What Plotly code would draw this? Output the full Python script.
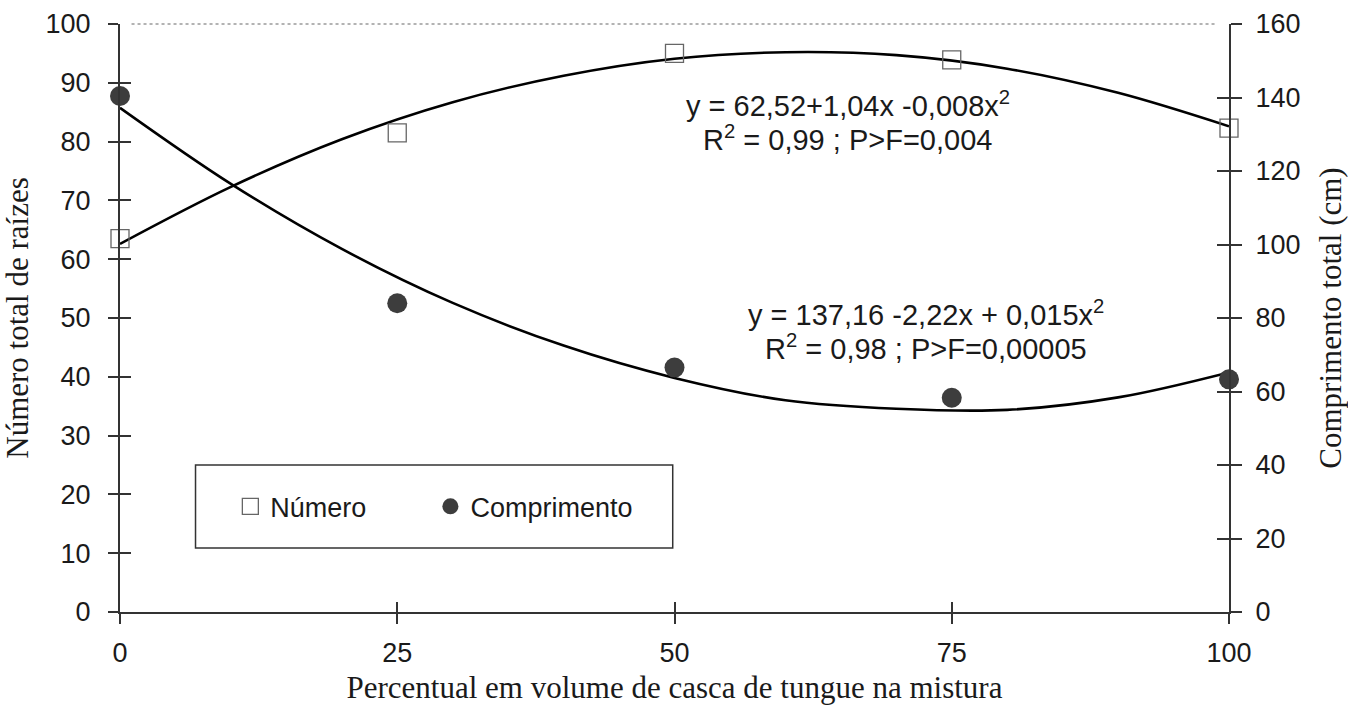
import plotly.graph_objects as go

# ---- data ----
x_levels = [0, 25, 50, 75, 100]
x_ticktext = ["0", "25", "50", "75", "100"]
numero = [63.5, 81.5, 95.0, 93.9, 82.3]          # left axis
comprimento = [140.4, 84.0, 66.5, 58.3, 63.3]    # right axis (cm)

curve_x = [0, 10, 20, 30, 40, 50, 60, 70, 80, 90, 100]
numero_curve = [62.6, 72.3, 80.4, 86.7, 91.2, 94.1, 95.2, 94.7, 92.4, 88.3, 82.6]
comprimento_curve = [137.2, 116.5, 98.8, 84.1, 72.5, 63.7, 57.6, 55.3, 55.0, 58.4, 65.2]

y_left_ticks = [0, 10, 20, 30, 40, 50, 60, 70, 80, 90, 100]
y_right_ticks = [0, 20, 40, 60, 80, 100, 120, 140, 160]

eq1_line1 = "y = 62,52+1,04x -0,008x<sup>2</sup>"
eq1_line2 = "R<sup>2</sup> = 0,99 ; P>F=0,004"
eq2_line1 = "y = 137,16 -2,22x + 0,015x<sup>2</sup>"
eq2_line2 = "R<sup>2</sup> = 0,98 ; P>F=0,00005"

SANS = "Liberation Sans, Arial, sans-serif"
SERIF = "Liberation Serif, Times New Roman, serif"
AX = "#333333"
TXT = "#1a1a1a"

fig = go.Figure()

fig.add_trace(go.Scatter(x=curve_x, y=numero_curve, mode="lines",
                         line=dict(color="black", width=2.6, shape="spline"),
                         showlegend=False, hoverinfo="skip", cliponaxis=False,
                         yaxis="y", xaxis="x"))
fig.add_trace(go.Scatter(x=curve_x, y=comprimento_curve, mode="lines",
                         line=dict(color="black", width=2.6, shape="spline"),
                         showlegend=False, hoverinfo="skip", cliponaxis=False,
                         yaxis="y2", xaxis="x"))

fig.add_trace(go.Scatter(x=x_levels, y=numero, mode="markers", name="Número",
                         marker=dict(symbol="square", size=18, color="rgba(255,255,255,0)",
                                     line=dict(color="#666666", width=1.3)),
                         cliponaxis=False, yaxis="y", xaxis="x", legend="legend"))
fig.add_trace(go.Scatter(x=x_levels, y=comprimento, mode="markers", name="Comprimento",
                         marker=dict(symbol="circle", size=20, color="#3d3d3d",
                                     line=dict(width=0)),
                         cliponaxis=False, yaxis="y2", xaxis="x", legend="legend2"))

tickfont = dict(family=SANS, size=27, color=TXT)
titlefont = dict(family=SERIF, size=31, color=TXT)
legfont = dict(family=SANS, size=27, color=TXT)

fig.update_layout(
    width=1348, height=705,
    margin=dict(l=120, r=119, t=24, b=93, autoexpand=False),
    paper_bgcolor="white", plot_bgcolor="white",
    xaxis=dict(range=[0, 100], tickvals=x_levels, ticktext=x_ticktext,
               ticks="outside", ticklen=10, tickwidth=1.6, tickcolor=AX,
               showline=True, linecolor=AX, linewidth=2, showgrid=False, zeroline=False,
               tickfont=tickfont, ticklabelstandoff=6,
               title=dict(text="Percentual em volume de casca de tungue na mistura",
                          font=titlefont, standoff=12)),
    xaxis2=dict(range=[0, 100], tickvals=x_levels, overlaying="x", anchor="y",
                ticks="inside", ticklen=10, tickwidth=1.6, tickcolor=AX,
                showticklabels=False, showline=False, showgrid=False, zeroline=False),
    yaxis=dict(range=[0, 100], tickvals=y_left_ticks,
               ticks="outside", ticklen=10, tickwidth=1.6, tickcolor=AX,
               showline=True, linecolor=AX, linewidth=2, showgrid=False, zeroline=False,
               tickfont=tickfont, ticklabelstandoff=12,
               title=dict(text="Número total de raízes", font=titlefont, standoff=8)),
    yaxis3=dict(range=[0, 100], tickvals=y_left_ticks, overlaying="y", side="left",
                anchor="x", ticks="inside", ticklen=11, tickwidth=1.6, tickcolor=AX,
                showticklabels=False, showline=False, showgrid=False, zeroline=False),
    yaxis2=dict(range=[0, 160], tickvals=y_right_ticks, overlaying="y", side="right",
                anchor="x", ticks="outside", ticklen=11, tickwidth=1.6, tickcolor=AX,
                showline=True, linecolor=AX, linewidth=2, showgrid=False, zeroline=False,
                tickfont=tickfont, ticklabelstandoff=8,
                title=dict(text="Comprimento total (cm)", font=titlefont, standoff=28)),
    yaxis4=dict(range=[0, 160], tickvals=y_right_ticks, overlaying="y", side="right",
                anchor="x", ticks="inside", ticklen=12, tickwidth=1.6, tickcolor=AX,
                showticklabels=False, showline=False, showgrid=False, zeroline=False),
    legend=dict(x=0.0995, xanchor="left", y=0.179, yanchor="middle",
                font=legfont, bgcolor="rgba(0,0,0,0)", borderwidth=0),
    legend2=dict(x=0.2799, xanchor="left", y=0.179, yanchor="middle",
                 font=legfont, bgcolor="rgba(0,0,0,0)", borderwidth=0),
    showlegend=True,
)

# dummy traces so overlay axes get drawn
fig.add_trace(go.Scatter(x=[None], y=[None], xaxis="x2", yaxis="y3", showlegend=False))
fig.add_trace(go.Scatter(x=[None], y=[None], xaxis="x", yaxis="y4", showlegend=False))

# top dotted border and legend frame
fig.add_shape(type="line", xref="paper", yref="paper", x0=0.0104, x1=0.989, y0=1, y1=1,
              line=dict(color="#9a9a9a", width=1.5, dash="dot"))
fig.add_shape(type="rect", xref="paper", yref="paper", x0=0.0681, x1=0.4984,
              y0=0.1088, y1=0.25, line=dict(color=AX, width=1.5), layer="below")

ann_font = dict(family=SANS, size=29, color=TXT)
for txt, xv, yv in [(eq1_line1, 65.6, 86.4), (eq1_line2, 65.6, 80.6)]:
    fig.add_annotation(text=txt, x=xv, y=yv, xref="x", yref="y", showarrow=False,
                       font=ann_font, xanchor="center", yanchor="middle")
for txt, xv, yv in [(eq2_line1, 72.7, 50.9), (eq2_line2, 72.7, 45.1)]:
    fig.add_annotation(text=txt, x=xv, y=yv, xref="x", yref="y", showarrow=False,
                       font=ann_font, xanchor="center", yanchor="middle")

fig.write_html("out.html", post_script="document.body.style.margin='0';",
               config={"displayModeBar": False})
